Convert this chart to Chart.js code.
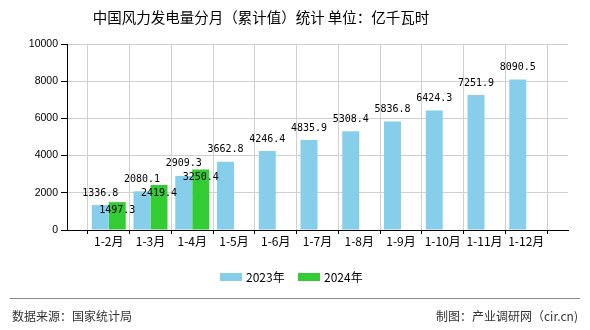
<!DOCTYPE html>
<html>
<head>
<meta charset="utf-8">
<script src="https://cdn.jsdelivr.net/npm/chart.js@4"></script>
<style>
  html, body { margin: 0; padding: 0; background: #fff; }
  #wrap { width: 590px; height: 330px; position: relative; }
</style>
</head>
<body>
<div id="wrap"><canvas id="windChart" width="590" height="330"></canvas></div>
<script>
// Chart data
const months = ['1-2月', '1-3月', '1-4月', '1-5月', '1-6月', '1-7月', '1-8月', '1-9月', '1-10月', '1-11月', '1-12月'];
const values2023 = [1336.8, 2080.1, 2909.3, 3662.8, 4246.4, 4835.9, 5308.4, 5836.8, 6424.3, 7251.9, 8090.5];
const values2024 = [1497.3, 2419.4, 3250.4, null, null, null, null, null, null, null, null];
const seriesNames = ['2023年', '2024年'];
const yTicks = [0, 2000, 4000, 6000, 8000, 10000];

const CJK = '"Noto Sans CJK SC", "Noto Sans", sans-serif';

// x position 1..n for each month, empty slot on both sides
function toPoints(values) {
    return values.map((v, i) => ({ x: i + 1, y: v })).filter(p => p.y !== null);
}

// Value labels, title, legend and footer
const extrasPlugin = {
    id: 'extras',
    afterDatasetsDraw(chart) {
        const ctx = chart.ctx;
        ctx.save();
        ctx.font = '10px "DejaVu Sans Mono", "Liberation Mono", monospace';
        ctx.fillStyle = '#000';
        ctx.textAlign = 'center';
        ctx.textBaseline = 'middle';
        chart.data.datasets.forEach((ds, di) => {
            const meta = chart.getDatasetMeta(di);
            meta.data.forEach((bar, i) => {
                const v = ds.data[i].y;
                const y = di === 0 ? bar.y - 12 : bar.y + 8;
                ctx.fillText(v.toFixed(1), bar.x, y);
            });
        });
        ctx.restore();
    },
    afterDraw(chart) {
        const ctx = chart.ctx;
        ctx.save();
        // title
        ctx.fillStyle = '#000';
        ctx.font = '14.5px ' + CJK;
        ctx.textAlign = 'center';
        ctx.textBaseline = 'middle';
        ctx.fillText('中国风力发电量分月（累计值）统计 单位：亿千瓦时', 261, 17);

        // legend
        ctx.font = '12px ' + CJK;
        ctx.textAlign = 'left';
        const legendX = [220, 298];
        chart.data.datasets.forEach((ds, di) => {
            ctx.fillStyle = ds.backgroundColor;
            ctx.fillRect(legendX[di], 273, 22, 8);
            ctx.fillStyle = '#000';
            ctx.fillText(ds.label, legendX[di] + 26, 277);
        });

        // footer
        ctx.strokeStyle = '#888';
        ctx.lineWidth = 1;
        ctx.beginPath();
        ctx.moveTo(10, 298.5);
        ctx.lineTo(580, 298.5);
        ctx.stroke();
        ctx.fillStyle = '#333';
        ctx.font = '12px ' + CJK;
        ctx.fillText('数据来源：国家统计局', 12, 316);
        ctx.textAlign = 'right';
        ctx.fillText('制图：产业调研网（cir.cn)', 578, 316);
        ctx.restore();
    }
};

const ctx = document.getElementById('windChart');
new Chart(ctx, {
    type: 'bar',
    data: {
        datasets: [
            {
                label: seriesNames[0],
                data: toPoints(values2023),
                backgroundColor: '#87CEEB',
                categoryPercentage: 0.814,
                barPercentage: 1.0
            },
            {
                label: seriesNames[1],
                data: toPoints(values2024),
                backgroundColor: '#33CC33',
                categoryPercentage: 0.814,
                barPercentage: 1.0
            }
        ]
    },
    options: {
        responsive: false,
        animation: false,
        layout: {
            padding: { left: 20, right: 22, top: 44, bottom: 80 }
        },
        plugins: {
            legend: { display: false },
            title: { display: false },
            tooltip: { enabled: false }
        },
        scales: {
            x: {
                type: 'linear',
                min: 0,
                max: months.length + 1,
                offset: false,
                grid: {
                    color: '#d0d0d0',
                    tickColor: '#000',
                    tickLength: 4
                },
                border: { color: '#000' },
                ticks: {
                    stepSize: 1,
                    color: '#000',
                    font: { size: 12, family: CJK },
                    padding: 0,
                    maxRotation: 0,
                    autoSkip: false,
                    callback: (value) => months[value - 1] ?? ''
                },
                afterFit(scale) { scale.height = 20; }
            },
            y: {
                min: 0,
                max: 10000,
                afterBuildTicks(scale) {
                    scale.ticks = yTicks.map(v => ({ value: v }));
                },
                grid: {
                    color: '#d0d0d0',
                    tickColor: '#000',
                    tickLength: 6
                },
                border: { color: '#000' },
                ticks: {
                    color: '#000',
                    font: { size: 10.5, family: '"Liberation Sans", sans-serif' },
                    padding: 3,
                    callback: (value) => String(value)
                },
                afterFit(scale) { scale.width = 47; }
            }
        }
    },
    plugins: [extrasPlugin]
});
</script>
</body>
</html>
